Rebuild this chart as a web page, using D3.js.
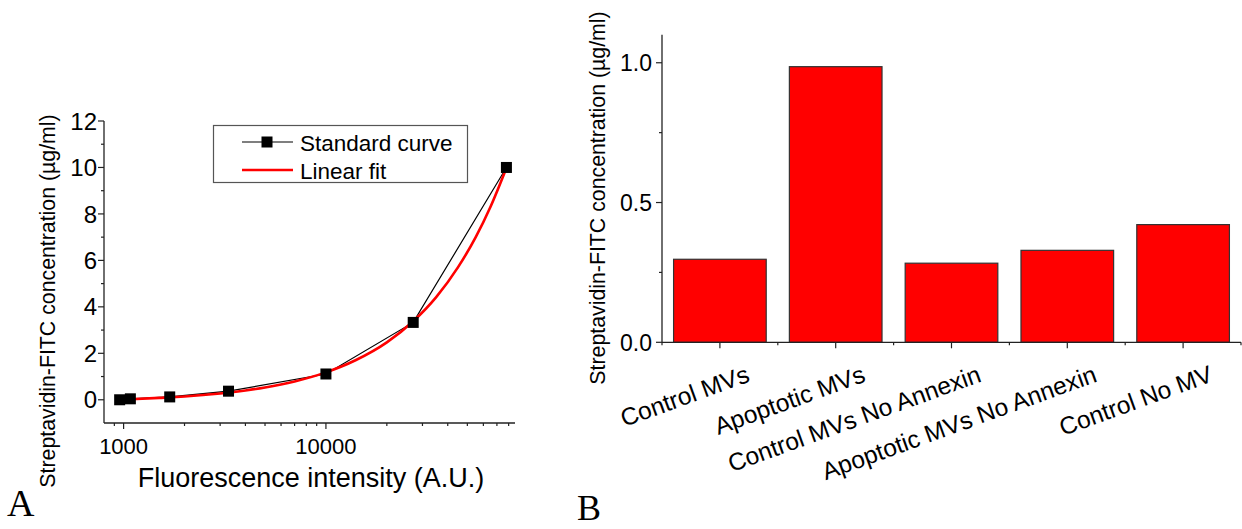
<!DOCTYPE html>
<html>
<head>
<meta charset="utf-8">
<script src="https://cdn.jsdelivr.net/npm/d3@7"></script>
<style>
  html, body { margin: 0; padding: 0; background: #fff; }
  svg { display: block; font-family: "Liberation Sans", Arial, sans-serif; }
</style>
</head>
<body>
<svg id="fig" width="1242" height="529"></svg>
<script>
// Panel A: standard curve (fluorescence vs. concentration)
const stdIntensity = [956, 1080, 1690, 3300, 10000, 27000, 78000];
const stdConc      = [0, 0.041, 0.123, 0.37, 1.11, 3.33, 10];
// Linear fit line, sampled along the fitted curve
const fitIntensity = [956, 1500, 2000, 3000, 4000, 5000, 7000, 10000, 14000, 20000, 27000, 35000, 45000, 55000, 65000, 78000];
const fitConc      = [0.0, 0.08, 0.14, 0.27, 0.40, 0.53, 0.79, 1.18, 1.70, 2.47, 3.38, 4.41, 5.71, 7.00, 8.30, 9.98];
const aYTicks = [0, 2, 4, 6, 8, 10, 12];
const aYMinor = [1, 3, 5, 7, 9, 11];
const aXTicks = [1000, 10000];
const aXMinor = [900, 2000, 3000, 4000, 5000, 6000, 7000, 8000, 9000, 20000, 30000, 40000, 50000, 60000, 70000, 80000];
const legendLabels = ["Standard curve", "Linear fit"];

// Panel B: bound streptavidin-FITC per sample
const categories = ["Control MVs", "Apoptotic MVs", "Control MVs No Annexin", "Apoptotic MVs No Annexin", "Control No MV"];
const concentrations = [0.297, 0.986, 0.283, 0.329, 0.421];
const bYTicks = [0, 0.5, 1.0];
const bYMinor = [0.25, 0.75];

const yTitle = "Streptavidin-FITC concentration (\u00b5g/ml)";

const svg = d3.select("#fig");
const axisCol = "#222";

// ---------- Panel A ----------
const xA = d3.scaleLog().domain([800, 86000]).range([104, 515]);
const yA = d3.scaleLinear().domain([-1, 12]).range([423, 121]);
const gA = svg.append("g");

// axes lines
gA.append("line").attr("x1", xA.range()[0]).attr("x2", xA.range()[0])
  .attr("y1", yA.range()[0]).attr("y2", yA.range()[1]).attr("stroke", axisCol).attr("stroke-width", 1.3);
gA.append("line").attr("x1", xA.range()[0]).attr("x2", xA.range()[1])
  .attr("y1", yA.range()[0]).attr("y2", yA.range()[0]).attr("stroke", axisCol).attr("stroke-width", 1.3);

// y ticks
gA.selectAll(".ayt").data(aYTicks).join("line")
  .attr("x1", xA.range()[0] - 6).attr("x2", xA.range()[0])
  .attr("y1", d => yA(d)).attr("y2", d => yA(d)).attr("stroke", axisCol).attr("stroke-width", 1.2);
gA.selectAll(".aym").data(aYMinor).join("line")
  .attr("x1", xA.range()[0] - 3).attr("x2", xA.range()[0])
  .attr("y1", d => yA(d)).attr("y2", d => yA(d)).attr("stroke", axisCol).attr("stroke-width", 1.2);
gA.selectAll(".ayl").data(aYTicks).join("text")
  .attr("x", xA.range()[0] - 7).attr("y", d => yA(d)).attr("dy", "0.36em")
  .attr("text-anchor", "end").attr("font-size", 24).text(d => d);

// x ticks
gA.selectAll(".axt").data(aXTicks).join("line")
  .attr("x1", d => xA(d)).attr("x2", d => xA(d))
  .attr("y1", yA.range()[0]).attr("y2", yA.range()[0] + 6).attr("stroke", axisCol).attr("stroke-width", 1.2);
gA.selectAll(".axm").data(aXMinor).join("line")
  .attr("x1", d => xA(d)).attr("x2", d => xA(d))
  .attr("y1", yA.range()[0]).attr("y2", yA.range()[0] + 3).attr("stroke", axisCol).attr("stroke-width", 1.2);
gA.selectAll(".axl").data(aXTicks).join("text")
  .attr("x", d => xA(d)).attr("y", 454)
  .attr("text-anchor", "middle").attr("font-size", 22).text(d => d);

// titles
gA.append("text").attr("x", 311).attr("y", 487).attr("text-anchor", "middle")
  .attr("font-size", 27).text("Fluorescence intensity (A.U.)");
gA.append("text").attr("transform", "translate(55,301) rotate(-90)").attr("text-anchor", "middle")
  .attr("font-size", 21.3).text(yTitle);

// standard curve
const stdPts = stdIntensity.map((x, i) => [x, stdConc[i]]);
gA.append("path")
  .attr("d", d3.line().x(d => xA(d[0])).y(d => yA(d[1]))(stdPts))
  .attr("fill", "none").attr("stroke", "#000").attr("stroke-width", 1.2);

// linear fit
const fitPts = fitIntensity.map((x, i) => [x, fitConc[i]]);
gA.append("path")
  .attr("d", d3.line().curve(d3.curveMonotoneX).x(d => xA(d[0])).y(d => yA(d[1]))(fitPts))
  .attr("fill", "none").attr("stroke", "#ff0000").attr("stroke-width", 2.6);

// markers
const sq = 11;
gA.selectAll(".pt").data(stdPts).join("rect")
  .attr("x", d => xA(d[0]) - sq / 2).attr("y", d => yA(d[1]) - sq / 2)
  .attr("width", sq).attr("height", sq).attr("fill", "#000");

// legend
const lg = gA.append("g");
lg.append("rect").attr("x", 213.5).attr("y", 125.5).attr("width", 254).attr("height", 57)
  .attr("fill", "#fff").attr("stroke", "#555").attr("stroke-width", 1.2);
lg.append("line").attr("x1", 242).attr("x2", 293).attr("y1", 142).attr("y2", 142)
  .attr("stroke", "#000").attr("stroke-width", 1.2);
lg.append("rect").attr("x", 267 - sq / 2).attr("y", 142 - sq / 2).attr("width", sq).attr("height", sq).attr("fill", "#000");
lg.append("line").attr("x1", 242).attr("x2", 293).attr("y1", 170).attr("y2", 170)
  .attr("stroke", "#ff0000").attr("stroke-width", 2.6);
lg.selectAll(".lt").data(legendLabels).join("text")
  .attr("x", 300).attr("y", (d, i) => 150.5 + i * 28)
  .attr("font-size", 22.5).text(d => d);

// panel letter
svg.append("text").attr("x", 7).attr("y", 516).attr("font-family", "'Liberation Serif', 'Times New Roman', serif")
  .attr("font-size", 38).text("A");

// ---------- Panel B ----------
const xB = d3.scaleLinear().domain([0.5, categories.length + 0.5]).range([662, 1241]);
const yB = d3.scaleLinear().domain([0, 1.1]).range([342.3, 34.8]);
const gB = svg.append("g");
const bw = xB(1.8) - xB(1.0);

gB.selectAll(".bar").data(concentrations).join("rect")
  .attr("x", (d, i) => xB(i + 1) - bw / 2).attr("y", d => yB(d))
  .attr("width", bw).attr("height", d => yB(0) - yB(d))
  .attr("fill", "#ff0000").attr("stroke", "#333").attr("stroke-width", 1.2);

gB.append("line").attr("x1", xB.range()[0]).attr("x2", xB.range()[0])
  .attr("y1", yB.range()[0]).attr("y2", yB.range()[1]).attr("stroke", axisCol).attr("stroke-width", 1.3);
gB.append("line").attr("x1", xB.range()[0]).attr("x2", xB.range()[1])
  .attr("y1", yB.range()[0]).attr("y2", yB.range()[0]).attr("stroke", axisCol).attr("stroke-width", 1.3);

gB.selectAll(".byt").data(bYTicks).join("line")
  .attr("x1", xB.range()[0] - 6).attr("x2", xB.range()[0])
  .attr("y1", d => yB(d)).attr("y2", d => yB(d)).attr("stroke", axisCol).attr("stroke-width", 1.2);
gB.selectAll(".bym").data(bYMinor).join("line")
  .attr("x1", xB.range()[0] - 3).attr("x2", xB.range()[0])
  .attr("y1", d => yB(d)).attr("y2", d => yB(d)).attr("stroke", axisCol).attr("stroke-width", 1.2);
gB.selectAll(".byl").data(bYTicks).join("text")
  .attr("x", xB.range()[0] - 10).attr("y", d => yB(d)).attr("dy", "0.36em")
  .attr("text-anchor", "end").attr("font-size", 23).text(d => d3.format(".1f")(d));

const bXMajor = categories.map((c, i) => i + 1);
const bXMinor = d3.range(0, categories.length + 1).map(i => i + 0.5);
gB.selectAll(".bxt").data(bXMajor).join("line")
  .attr("x1", d => xB(d)).attr("x2", d => xB(d))
  .attr("y1", yB(0)).attr("y2", yB(0) + 6).attr("stroke", axisCol).attr("stroke-width", 1.2);
gB.selectAll(".bxm").data(bXMinor).join("line")
  .attr("x1", d => xB(d)).attr("x2", d => xB(d))
  .attr("y1", yB(0)).attr("y2", yB(0) + 3).attr("stroke", axisCol).attr("stroke-width", 1.2);
gB.selectAll(".bxl").data(categories).join("text")
  .attr("transform", (d, i) => `translate(${xB(i + 1) + 31},381) rotate(-20)`)
  .attr("text-anchor", "end").attr("font-size", 24.5).text(d => d);

gB.append("text").attr("transform", "translate(605,198) rotate(-90)").attr("text-anchor", "middle")
  .attr("font-size", 21.3).text(yTitle);

svg.append("text").attr("x", 577).attr("y", 520).attr("font-family", "'Liberation Serif', 'Times New Roman', serif")
  .attr("font-size", 36).text("B");
</script>
</body>
</html>
